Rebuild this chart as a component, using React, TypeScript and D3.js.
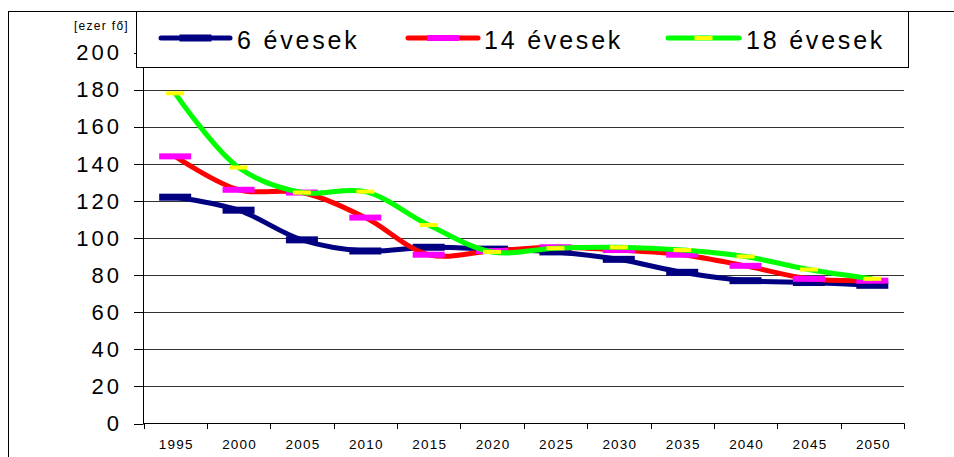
import React from "react";
import * as d3 from "d3";

const years = ["1995","2000","2005","2010","2015","2020","2025","2030","2035","2040","2045","2050"];
const age6 = [122, 115, 99, 93, 95, 94, 92.5, 88.5, 81.5, 77, 76, 74.5];
const age14 = [144, 126, 124.5, 111, 91, 93, 95, 93.5, 91, 85, 78, 77];
const age18 = [178, 138, 124.5, 125, 107, 92.5, 94.5, 95, 93.5, 90, 83, 78];
const yTicks = [0, 20, 40, 60, 80, 100, 120, 140, 160, 180, 200];
const seriesNames = ["6 évesek", "14 évesek", "18 évesek"];
const unitLabel = "[ezer fő]";

const FONT = "'Liberation Sans', Arial, Helvetica, sans-serif";

export default function App() {
  const x = d3.scaleBand<string>().domain(years).range([143.5, 904]).padding(0);
  const y = d3.scaleLinear().domain([0, 200]).range([423.5, 52.5]);

  const series = [
    { name: seriesNames[0], values: age6, color: "#000080", marker: "#000080", mw: 32, mh: 7 },
    { name: seriesNames[1], values: age14, color: "#FF0000", marker: "#FF00FF", mw: 32, mh: 6 },
    { name: seriesNames[2], values: age18, color: "#00FF00", marker: "#FFFF00", mw: 18, mh: 4 },
  ];

  const line = d3
    .line<number>()
    .x((_, i) => (x(years[i]) as number) + x.bandwidth() / 2)
    .y((d) => y(d))
    .curve(d3.curveCatmullRom.alpha(0.5));

  const legendItems = [
    { x0: 161, x1: 230, tx: 237 },
    { x0: 408, x1: 478, tx: 484 },
    { x0: 668, x1: 739, tx: 746 },
  ];
  const ly = 38;

  const tickPos = years.map((yr) => x(yr) as number).concat([904]);

  return (
    <svg width={954} height={457} style={{ position: "absolute", left: 0, top: 0 }}>
      <rect x={0} y={0} width={954} height={457} fill="#fff" />
      <rect x={8.5} y={11.5} width={970} height={470} fill="none" stroke="#000" strokeWidth={1} />

      {/* gridlines */}
      {yTicks.filter((t) => t > 0).map((t) => (
        <line key={"g" + t} x1={143.5} x2={904} y1={Math.round(y(t)) + 0.5} y2={Math.round(y(t)) + 0.5} stroke="#333" strokeWidth={1} />
      ))}

      {/* y axis */}
      <line x1={143.5} x2={143.5} y1={52} y2={424} stroke="#000" strokeWidth={1} />
      {yTicks.map((t) => (
        <g key={"yt" + t}>
          <line x1={134} x2={143.5} y1={Math.round(y(t)) + 0.5} y2={Math.round(y(t)) + 0.5} stroke="#000" strokeWidth={1} />
          <text
            x={122}
            y={y(t)}
            dy="0.35em"
            textAnchor="end"
            fontFamily={FONT}
            fontSize={22}
            letterSpacing={3}
            fill="#000"
          >
            {t}
          </text>
        </g>
      ))}
      <text x={129} y={30} textAnchor="end" fontFamily={FONT} fontSize={12} letterSpacing={1.3} fill="#000">
        {unitLabel}
      </text>

      {/* x axis */}
      <line x1={143.5} x2={904.5} y1={423.5} y2={423.5} stroke="#000" strokeWidth={1} />
      {tickPos.map((p, i) => (
        <line key={"xt" + i} x1={Math.round(p) + 0.5} x2={Math.round(p) + 0.5} y1={423.5} y2={429} stroke="#000" strokeWidth={1} />
      ))}
      {years.map((yr) => (
        <text
          key={"xl" + yr}
          x={(x(yr) as number) + x.bandwidth() / 2 + 1}
          y={449}
          textAnchor="middle"
          fontFamily={FONT}
          fontSize={13.5}
          letterSpacing={1.2}
          fill="#000"
        >
          {yr}
        </text>
      ))}

      {/* series */}
      {series.map((s) => (
        <g key={s.name}>
          <path d={line(s.values) || ""} fill="none" stroke={s.color} strokeWidth={5} strokeLinejoin="round" />
          {s.values.map((v, i) => (
            <rect
              key={i}
              x={(x(years[i]) as number) + x.bandwidth() / 2 - s.mw / 2}
              y={y(v) - s.mh / 2}
              width={s.mw}
              height={s.mh}
              fill={s.marker}
            />
          ))}
        </g>
      ))}

      {/* legend */}
      <rect x={136.5} y={11.5} width={772} height={56} fill="#fff" stroke="#000" strokeWidth={1} />
      {series.map((s, i) => {
        const it = legendItems[i];
        const cx = (it.x0 + it.x1) / 2;
        return (
          <g key={"lg" + i}>
            <line x1={it.x0} x2={it.x1} y1={ly} y2={ly} stroke={s.color} strokeWidth={5} strokeLinecap="round" />
            <rect x={cx - s.mw / 2} y={ly - s.mh / 2} width={s.mw} height={s.mh} fill={s.marker} />
            <text x={it.tx} y={48.5} fontFamily={FONT} fontSize={25} letterSpacing={2.8} fill="#000">
              {s.name}
            </text>
          </g>
        );
      })}
    </svg>
  );
}
